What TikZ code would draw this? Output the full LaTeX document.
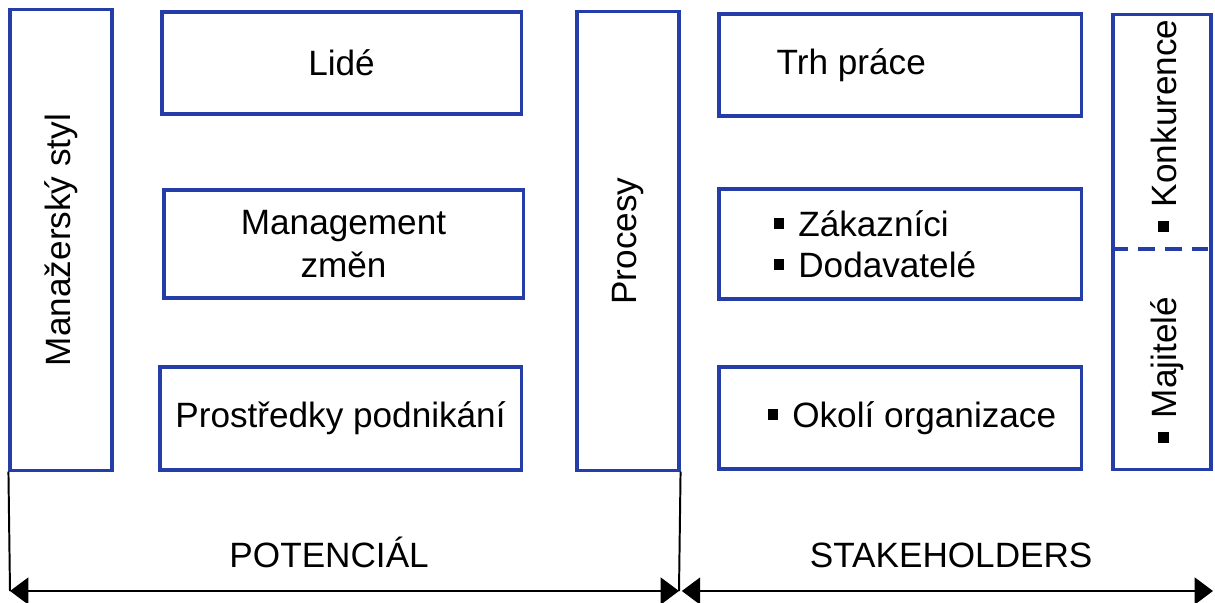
\documentclass[tikz,border=0pt]{standalone}
\usepackage{fontspec}
\setmainfont{Liberation Sans}
\usetikzlibrary{positioning, calc, arrows.meta}
\definecolor{frameblue}{RGB}{36,61,168}
\newcommand{\sqbul}{\rule[0.21em]{0.3em}{0.3em}\hspace{0.4em}}

\begin{document}
\begin{tikzpicture}[
    x=0.025cm, y=-0.025cm,
    block/.style={draw=frameblue, line width=2.2pt, inner sep=0pt, align=center, font=\fontsize{25}{30}\selectfont},
    txt/.style={inner sep=0pt, align=left, font=\fontsize{25}{29}\selectfont},
    spanlabel/.style={inner sep=0pt, anchor=base, yshift=17pt, font=\fontsize{25}{30}\selectfont},
    span/.style={line width=1.6pt, {Triangle[length=13pt, width=19pt]}-{Triangle[length=13pt, width=19pt]}},
    guide/.style={line width=1.4pt}
]
    \useasboundingbox (0,0) rectangle (1215,603);

    % Potential
    \node[block, minimum width=2.55cm, minimum height=11.5cm] (styl) at (61,240) {\rotatebox{90}{Manažerský styl}};
    \node[block, minimum width=8.975cm, minimum height=2.55cm] (lide) at (341.5,63) {Lidé};
    \node[block, minimum width=8.975cm, minimum height=2.7cm] (zmeny) at (343.5,244) {Management\\ změn};
    \node[block, minimum width=9.025cm, minimum height=2.575cm] (prostredky) at (340.5,418.5) {Prostředky podnikání};
    \node[block, minimum width=2.55cm, minimum height=11.45cm] (procesy) at (628,241) {\rotatebox{90}{Procesy}};

    % Stakeholders
    \node[block, minimum width=9.05cm, minimum height=2.55cm] (trh) at (900,65) {};
    \node[txt, anchor=west] (trhtext) at ([xshift=1.475cm]trh.west) {Trh práce};
    \node[block, minimum width=9.05cm, minimum height=2.75cm] (partneri) at (900,244) {};
    \node[txt, anchor=west] (partneritext) at ([xshift=1.4cm]partneri.west) {\sqbul Zákazníci\\ \sqbul Dodavatelé};
    \node[block, minimum width=9.05cm, minimum height=2.55cm] (okoli) at (900,418) {};
    \node[txt, anchor=west] (okolitext) at ([xshift=1.25cm]okoli.west) {\sqbul Okolí organizace};
    \node[block, minimum width=2.45cm, minimum height=11.35cm] (trzni) at (1162,242) {};
    \node[txt, rotate=90, anchor=base west] (konkurence) at (1176,232) {\sqbul Konkurence};
    \node[txt, rotate=90, anchor=base west] (majitele) at (1176,443) {\sqbul Majitelé};
    \draw[frameblue, line width=2.2pt, dash pattern=on 12pt off 7pt] (trzni.west |- 0,249) -- (trzni.east |- 0,249);

    % Spans
    \coordinate (pl) at (10,591);
    \coordinate (pm) at (679,591);
    \coordinate (pr) at (1213,591);
    \draw[guide] (styl.south west) -- (pl);
    \draw[guide] (procesy.south east) -- (pm);
    \draw[span] (pl) -- (pm) node[spanlabel, pos=0.477] (potencial) {POTENCIÁL};
    \draw[span] ([xshift=2pt]pm) -- (pr) node[spanlabel, pos=0.507] (stakeholders) {STAKEHOLDERS};
\end{tikzpicture}
\end{document}
